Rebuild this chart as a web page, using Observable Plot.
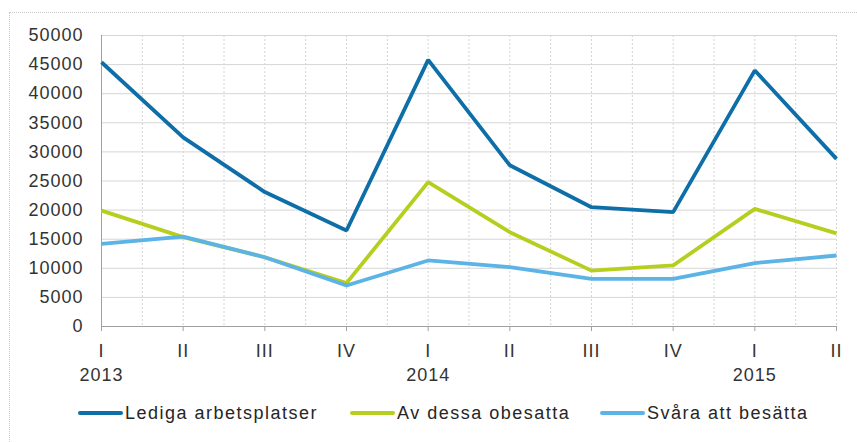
<!DOCTYPE html>
<html>
<head>
<meta charset="utf-8">
<script src="https://cdn.jsdelivr.net/npm/d3@7"></script>
<script src="https://cdn.jsdelivr.net/npm/@observablehq/plot@0.6"></script>
<style>
  html, body { margin: 0; padding: 0; background: #fff; overflow: hidden; }
  #wrap { position: relative; width: 857px; height: 442px; font-family: "Liberation Sans", Arial, sans-serif; }
  #frame { position: absolute; left: 9px; top: 12px; width: 900px; height: 500px;
           border-left: 1px dotted #c8c8c8; border-top: 1px dotted #c8c8c8; box-sizing: border-box; }
  #chart { position: absolute; left: 0; top: 0; }
  #legend { position: absolute; left: 0; top: 395px; width: 857px; height: 47px; }
  .item { position: absolute; top: 7px; height: 22px; display: flex; align-items: center;
          font-size: 18px; color: #262626; letter-spacing: 1.5px; white-space: nowrap; }
  .sw { display: inline-block; width: 45px; height: 4px; border-radius: 2px; margin-right: 2px; }
</style>
</head>
<body>
<div id="wrap">
  <div id="frame"></div>
  <div id="chart"></div>
  <div id="legend"></div>
</div>
<script>
const quarters = ["I", "II", "III", "IV", "I", "II", "III", "IV", "I", "II"];
const periodYear = ["2013", "2013", "2013", "2013", "2014", "2014", "2014", "2014", "2015", "2015"];
const seriesNames = ["Lediga arbetsplatser", "Av dessa obesatta", "Svåra att besätta"];
const lediga   = [45400, 32500, 23100, 16500, 45800, 27700, 20500, 19650, 44000, 28800];
const obesatta = [19900, 15350, 11900, 7450, 24800, 16200, 9600, 10500, 20200, 16000];
const svara    = [14200, 15450, 11900, 7050, 11350, 10200, 8200, 8200, 10900, 12200];
const yTicks = [0, 5000, 10000, 15000, 20000, 25000, 30000, 35000, 40000, 45000, 50000];
const colors = ["#0e6ea8", "#b6cf1e", "#5cb3e6"];

const seriesValues = [lediga, obesatta, svara];
const data = [];
seriesValues.forEach((vals, s) => vals.forEach((v, i) => data.push({series: seriesNames[s], i, value: v})));
const idx = quarters.map((q, i) => i);
const halfSteps = d3.range(0, quarters.length - 0.99, 0.5);
const yearIdx = idx.filter(i => quarters[i] === "I");

const chart = Plot.plot({
  width: 857,
  height: 395,
  marginLeft: 101,
  marginRight: 21,
  marginTop: 35,
  marginBottom: 69,
  style: {fontFamily: "Liberation Sans, Arial, sans-serif", fontSize: "18px", color: "#333", background: "transparent", letterSpacing: "1px"},
  x: {domain: [0, quarters.length - 1], axis: null, label: null},
  y: {domain: [0, 50000], axis: null, label: null},
  color: {domain: seriesNames, range: colors},
  marks: [
    Plot.ruleX(halfSteps, {x: d => d, stroke: "#d4d4d4", strokeDasharray: "2,2", strokeWidth: 1}),
    Plot.ruleY(yTicks.filter(d => d > 0), {y: d => d, stroke: "#d6d6d6", strokeWidth: 1}),
    Plot.axisY({ticks: yTicks, tickSize: 0, tickPadding: 18, label: null, tickFormat: d => String(d), fill: "#333"}),
    Plot.ruleX([0], {stroke: "#a0a0a0", strokeWidth: 1}),
    Plot.ruleY([0], {stroke: "#a0a0a0", strokeWidth: 1}),
    Plot.axisX({ticks: idx, tickSize: 5, tickPadding: 13, label: null, stroke: "#a0a0a0", tickFormat: i => quarters[i], fill: "#333"}),
    Plot.axisX({ticks: yearIdx, tickSize: 0, tickPadding: 42, label: null, tickFormat: i => periodYear[i], fill: "#333"}),
    Plot.line(data, {x: "i", y: "value", z: "series", stroke: "series", strokeWidth: 3.8, strokeLinejoin: "miter", strokeLinecap: "butt"})
  ]
});
document.getElementById("chart").appendChild(chart);

const legend = document.getElementById("legend");
const lefts = [78, 350, 600];
seriesNames.forEach((name, s) => {
  const item = document.createElement("div");
  item.className = "item";
  item.style.left = lefts[s] + "px";
  const sw = document.createElement("span");
  sw.className = "sw";
  sw.style.background = colors[s];
  item.appendChild(sw);
  item.appendChild(document.createTextNode(name));
  legend.appendChild(item);
});
</script>
</body>
</html>
